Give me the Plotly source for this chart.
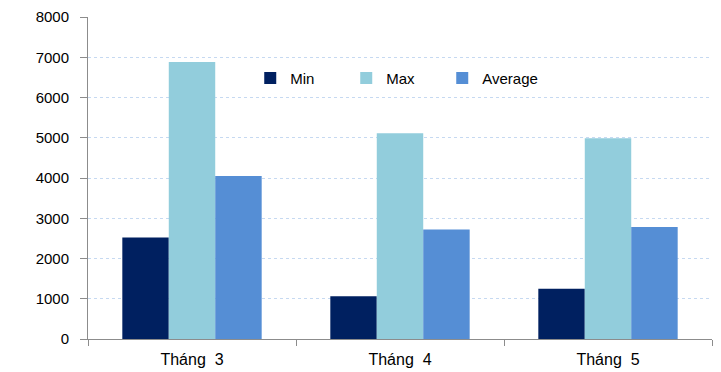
import plotly.graph_objects as go

months = ["Tháng\u00a0\u00a03", "Tháng\u00a0\u00a04", "Tháng\u00a0\u00a05"]
min_vals = [2520, 1060, 1250]
max_vals = [6880, 5110, 4990]
avg_vals = [4050, 2720, 2780]

series = [
    ("Min", min_vals, "#002060"),
    ("Max", max_vals, "#92cddc"),
    ("Average", avg_vals, "#558ed5"),
]

fig = go.Figure()
for name, vals, color in series:
    fig.add_trace(go.Bar(
        x=months, y=vals, name=name,
        marker=dict(color=color, line=dict(width=0)),
    ))

font_family = "Liberation Sans, Arial, sans-serif"

fig.update_layout(
    width=721, height=372,
    margin=dict(l=88, r=9, t=17, b=33),
    paper_bgcolor="white", plot_bgcolor="white",
    barmode="group", bargap=0.33, bargroupgap=0,
    font=dict(family=font_family, size=15, color="#000000"),
    showlegend=True,
    legend=dict(
        orientation="h", x=0.26, y=0.81, xanchor="left", yanchor="middle",
        font=dict(size=15), entrywidth=51, entrywidthmode="pixels",
        itemwidth=30, bgcolor="rgba(0,0,0,0)", traceorder="normal",
    ),
    xaxis=dict(
        automargin=False,
        showline=True, linecolor="#8c8c8c", linewidth=1,
        ticks="outside", tickson="boundaries", ticklen=6, tickcolor="#8c8c8c",
        showgrid=False, tickfont=dict(size=16), ticklabelstandoff=6,
    ),
    yaxis=dict(
        automargin=False,
        range=[0, 8000], dtick=1000, tickformat="d",
        showline=True, linecolor="#8c8c8c", linewidth=1,
        ticks="outside", ticklen=7, tickcolor="#8c8c8c",
        showgrid=True, gridcolor="#c6d9f1", gridwidth=1, griddash="dot",
        zeroline=False, tickfont=dict(size=15), ticklabelstandoff=8,
    ),
)

fig.write_html("out.html")
